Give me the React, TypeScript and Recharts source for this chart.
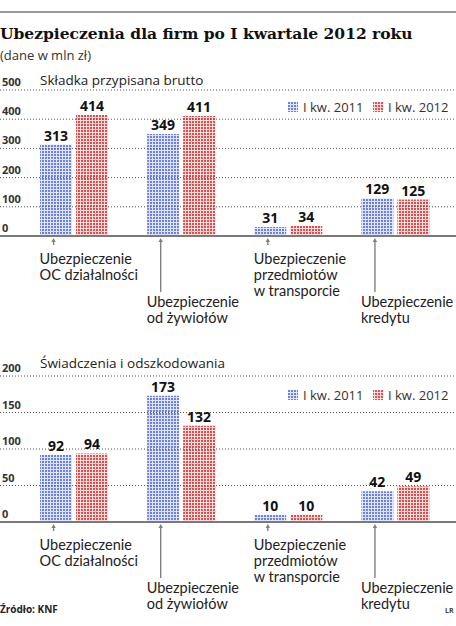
import { BarChart, Bar, XAxis, YAxis, LabelList } from "recharts";

// category labels, one entry per line of text
const categories = [
  ["Ubezpieczenie", "OC działalności"],
  ["Ubezpieczenie", "od żywiołów"],
  ["Ubezpieczenie", "przedmiotów", "w transporcie"],
  ["Ubezpieczenie", "kredytu"],
];

const seriesNames = ["I kw. 2011", "I kw. 2012"];

// Składka przypisana brutto (mln zł)
const premium2011 = [313, 349, 31, 129];
const premium2012 = [414, 411, 34, 125];
const premiumTicks = [0, 100, 200, 300, 400, 500];

// Świadczenia i odszkodowania (mln zł)
const claims2011 = [92, 173, 10, 42];
const claims2012 = [94, 132, 10, 49];
const claimsTicks = [0, 50, 100, 150, 200];

const W = 456;
const FONT = "'Open Sans', sans-serif";
const LABEL_FONT = "Lato, 'Open Sans', sans-serif";

const buildRows = (a: number[], b: number[]) =>
  categories.map((lines, i) => ({ name: lines.join(" "), y2011: a[i], y2012: b[i] }));

function CategoryTick({ x, y, index }: any) {
  const lines = categories[index] || [];
  // every second label hangs lower so the texts don't collide
  const low = index % 2 === 1;
  const ax = x - 20;
  const lineEnd = low ? 56 : 9;
  const textY = low ? 71 : 27.5;
  return (
    <g>
      <line x1={ax} x2={ax} y1={y + 4} y2={y + lineEnd} stroke="#808080" strokeWidth={1.4} />
      <path d={`M${ax - 2.2},${y + 6} L${ax},${y + 2} L${ax + 2.2},${y + 6} Z`} fill="#808080" />
      {lines.map((l, k) => (
        <text key={k} x={x - 34} y={y + textY + k * 16} fontSize={14.5} fill="#222" fontFamily={LABEL_FONT}>
          {l}
        </text>
      ))}
    </g>
  );
}

function ValueTick({ y, payload }: any) {
  const v = payload.value;
  return (
    <g>
      {v === 0 ? (
        <line x1={0} x2={W} y1={y} y2={y} stroke="#7a7a7a" strokeWidth={2} />
      ) : (
        <line x1={0} x2={W} y1={y} y2={y} stroke="#555" strokeWidth={1} strokeDasharray="1 2" />
      )}
      <text x={2} y={y - 4} fontSize={11} fontWeight={700} fill="#333" fontFamily={FONT}>
        {v}
      </text>
    </g>
  );
}

function Panel({ a, b, ticks, top }: { a: number[]; b: number[]; ticks: number[]; top: number }) {
  const data = buildRows(a, b);
  const label = { fill: "#111", fontSize: 14, fontWeight: 700, fontFamily: FONT };
  return (
    <div style={{ position: "absolute", left: 0, top }}>
      <BarChart
        width={W}
        height={265}
        data={data}
        margin={{ top: 20, right: 7.5, left: 0, bottom: 0 }}
        barSize={32}
        barGap={4}
      >
        <YAxis
          width={20}
          domain={[0, ticks[ticks.length - 1]]}
          ticks={ticks}
          interval={0}
          axisLine={false}
          tickLine={false}
          tick={<ValueTick />}
        />
        <XAxis
          dataKey="name"
          height={99}
          interval={0}
          axisLine={false}
          tickLine={false}
          tickSize={0}
          tickMargin={0}
          tick={<CategoryTick />}
        />
        <Bar dataKey="y2011" name={seriesNames[0]} fill="url(#dotsBlue)" isAnimationActive={false}>
          <LabelList dataKey="y2011" position="top" offset={4} {...label} />
        </Bar>
        <Bar dataKey="y2012" name={seriesNames[1]} fill="url(#dotsRed)" isAnimationActive={false}>
          <LabelList dataKey="y2012" position="top" offset={4} {...label} />
        </Bar>
      </BarChart>
    </div>
  );
}

function LegendRow({ y }: { y: number }) {
  return (
    <g fontFamily={FONT} fontSize={13} fill="#333">
      <rect x={288} y={y - 10} width={10} height={10} fill="url(#dotsBlue)" />
      <text x={303} y={y}>{seriesNames[0]}</text>
      <rect x={373} y={y - 10} width={10} height={10} fill="url(#dotsRed)" />
      <text x={388} y={y}>{seriesNames[1]}</text>
    </g>
  );
}

export default function App() {
  return (
    <div
      style={{
        position: "absolute",
        left: 0,
        top: 0,
        width: W,
        height: 626,
        background: "#fff",
        fontFamily: FONT,
        overflow: "hidden",
      }}
    >
      <svg width={0} height={0} style={{ position: "absolute" }}>
        <defs>
          <pattern id="dotsBlue" width={3} height={3} patternUnits="userSpaceOnUse">
            <rect width={3} height={3} fill="#e2e6fb" />
            <rect width={2} height={2} fill="#6a80ee" />
          </pattern>
          <pattern id="dotsRed" width={3} height={3} patternUnits="userSpaceOnUse">
            <rect width={3} height={3} fill="#fbe0e0" />
            <rect width={2} height={2} fill="#e84a4a" />
          </pattern>
        </defs>
      </svg>

      <Panel a={premium2011} b={premium2012} ticks={premiumTicks} top={70} />
      <Panel a={claims2011} b={claims2012} ticks={claimsTicks} top={356} />

      <svg width={W} height={626} style={{ position: "absolute", left: 0, top: 0, pointerEvents: "none" }}>
        <line x1={0} x2={W} y1={12} y2={12} stroke="#777" strokeWidth={1.5} />
        <text x={0} y={39} fontFamily="'DejaVu Serif', serif" fontWeight={700} fontSize={15.5} fill="#111">
          Ubezpieczenia dla firm po I kwartale 2012 roku
        </text>
        <text x={0} y={60} fontFamily={FONT} fontSize={13} fill="#333">
          (dane w mln zł)
        </text>
        <text x={40} y={85} fontFamily={FONT} fontSize={13.5} fill="#222">
          Składka przypisana brutto
        </text>
        <LegendRow y={112} />
        <text x={40} y={368} fontFamily={FONT} fontSize={13.5} fill="#222">
          Świadczenia i odszkodowania
        </text>
        <LegendRow y={400} />
        <text x={0} y={613} fontFamily={FONT} fontSize={10} fontWeight={700} fill="#222">
          Źródło: KNF
        </text>
        <text x={445} y={613} fontFamily={FONT} fontSize={7} fontWeight={700} fill="#444">
          LR
        </text>
      </svg>
    </div>
  );
}
